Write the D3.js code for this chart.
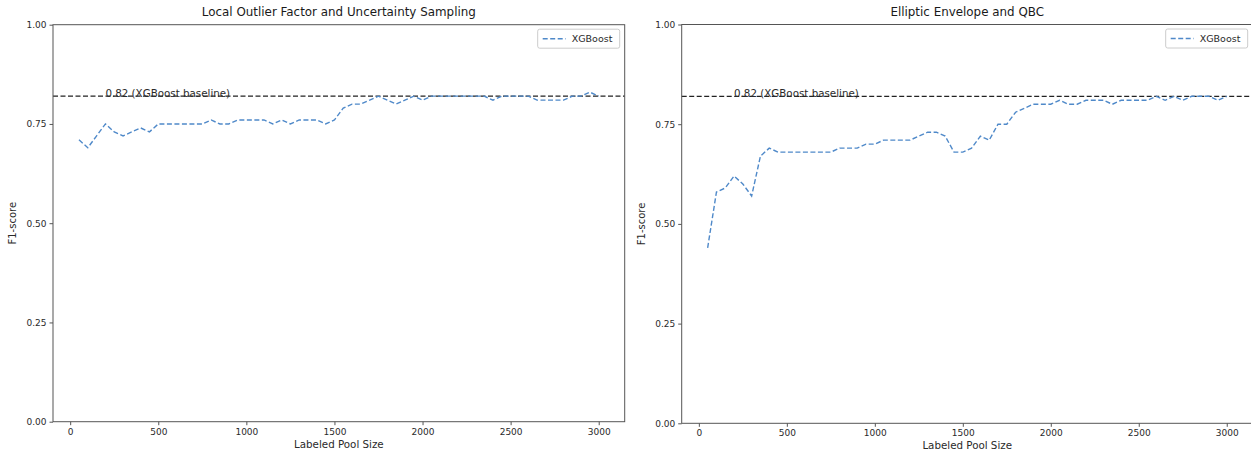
<!DOCTYPE html>
<html>
<head>
<meta charset="utf-8">
<script src="https://cdn.jsdelivr.net/npm/d3@7.9.0/dist/d3.min.js"></script>
<style>
  html, body { margin: 0; padding: 0; background: #fff; }
  svg { display: block; font-family: "DejaVu Sans", sans-serif; }
</style>
</head>
<body>
<svg id="chart" width="1251" height="452"></svg>
<script>
// ---------- Data ----------
const poolSizes = d3.range(50, 3001, 50);

const lofScores = [
  0.71, 0.69, 0.72, 0.75, 0.73, 0.72, 0.73, 0.74, 0.73, 0.75,
  0.75, 0.75, 0.75, 0.75, 0.75, 0.76, 0.75, 0.75, 0.76, 0.76,
  0.76, 0.76, 0.75, 0.76, 0.75, 0.76, 0.76, 0.76, 0.75, 0.76,
  0.79, 0.80, 0.80, 0.81, 0.82, 0.81, 0.80, 0.81, 0.82, 0.81,
  0.82, 0.82, 0.82, 0.82, 0.82, 0.82, 0.82, 0.81, 0.82, 0.82,
  0.82, 0.82, 0.81, 0.81, 0.81, 0.81, 0.82, 0.82, 0.83, 0.82
];

const eeScores = [
  0.44, 0.58, 0.59, 0.62, 0.60, 0.57, 0.67, 0.69, 0.68, 0.68,
  0.68, 0.68, 0.68, 0.68, 0.68, 0.69, 0.69, 0.69, 0.70, 0.70,
  0.71, 0.71, 0.71, 0.71, 0.72, 0.73, 0.73, 0.72, 0.68, 0.68,
  0.69, 0.72, 0.71, 0.75, 0.75, 0.78, 0.79, 0.80, 0.80, 0.80,
  0.81, 0.80, 0.80, 0.81, 0.81, 0.81, 0.80, 0.81, 0.81, 0.81,
  0.81, 0.82, 0.81, 0.82, 0.81, 0.82, 0.82, 0.82, 0.81, 0.82
];

const baseline = 0.82;
const baselineLabel = "0.82 (XGBoost baseline)";
const xTicks = [0, 500, 1000, 1500, 2000, 2500, 3000];
const yTicks = [0, 0.25, 0.5, 0.75, 1.0];
const seriesName = "XGBoost";

const panels = [
  { title: "Local Outlier Factor and Uncertainty Sampling", values: lofScores,
    left: 53, right: 624.7, top: 24.7, bottom: 421.7 },
  { title: "Elliptic Envelope and QBC", values: eeScores,
    left: 681.7, right: 1252.7, top: 24.5, bottom: 423.3 }
];

// ---------- Drawing ----------
const svg = d3.select("#chart");
const lineColor = "#4f89c9";
const textColor = "#2a2a2a";
const spineColor = "#555";

panels.forEach((p) => {
  const x = d3.scaleLinear().domain([-97.5, 3147.5]).range([p.left, p.right]);
  const y = d3.scaleLinear().domain([0, 1]).range([p.bottom, p.top]);
  const g = svg.append("g");

  // baseline
  g.append("line")
    .attr("x1", p.left).attr("x2", p.right)
    .attr("y1", y(baseline)).attr("y2", y(baseline))
    .attr("stroke", "#222").attr("stroke-width", 1.3)
    .attr("stroke-dasharray", "5,2.5");

  g.append("text")
    .attr("x", x(200)).attr("y", y(baseline) + 1)
    .attr("font-size", 10.3).attr("fill", textColor)
    .text(baselineLabel);

  // series
  const line = d3.line().x((d, i) => x(poolSizes[i])).y((d) => y(d));
  g.append("path")
    .datum(p.values)
    .attr("d", line)
    .attr("fill", "none")
    .attr("stroke", lineColor)
    .attr("stroke-width", 1.4)
    .attr("stroke-dasharray", "5,2.5");

  // axes
  const xAxis = d3.axisBottom(x).tickValues(xTicks).tickSize(3.5).tickPadding(3)
    .tickFormat(d3.format("d"));
  const yAxis = d3.axisLeft(y).tickValues(yTicks).tickSize(3.5).tickPadding(3)
    .tickFormat(d3.format(".2f"));

  const gx = g.append("g").attr("transform", `translate(0,${p.bottom})`).call(xAxis);
  const gy = g.append("g").attr("transform", `translate(${p.left},0)`).call(yAxis);
  [gx, gy].forEach((a) => {
    a.select(".domain").remove();
    a.selectAll(".tick line").attr("stroke", spineColor);
    a.selectAll(".tick text").attr("fill", textColor)
      .attr("font-size", 9).attr("font-family", "DejaVu Sans");
  });

  // frame
  g.append("rect")
    .attr("x", p.left).attr("y", p.top)
    .attr("width", p.right - p.left).attr("height", p.bottom - p.top)
    .attr("fill", "none").attr("stroke", spineColor).attr("stroke-width", 1);

  // titles
  const cx = (p.left + p.right) / 2;
  g.append("text")
    .attr("x", cx).attr("y", 16)
    .attr("text-anchor", "middle").attr("font-size", 11.9).attr("fill", "#1a1a1a")
    .text(p.title);

  g.append("text")
    .attr("x", cx).attr("y", p.bottom + 26)
    .attr("text-anchor", "middle").attr("font-size", 10.3).attr("fill", textColor)
    .text("Labeled Pool Size");

  g.append("text")
    .attr("transform", `translate(${p.left - 37},${(p.top + p.bottom) / 2}) rotate(-90)`)
    .attr("text-anchor", "middle").attr("font-size", 10).attr("fill", textColor)
    .text("F1-score");

  // legend
  const lx = p.right - 87, ly = p.top + 4.5;
  const lg = g.append("g").attr("transform", `translate(${lx},${ly})`);
  lg.append("rect")
    .attr("width", 82).attr("height", 19).attr("rx", 2)
    .attr("fill", "#fff").attr("stroke", "#ccc");
  lg.append("line")
    .attr("x1", 5).attr("x2", 28).attr("y1", 9.5).attr("y2", 9.5)
    .attr("stroke", lineColor).attr("stroke-width", 1.4)
    .attr("stroke-dasharray", "5,2.5");
  lg.append("text")
    .attr("x", 34).attr("y", 13)
    .attr("font-size", 9.5).attr("fill", textColor)
    .text(seriesName);
});
</script>
</body>
</html>
